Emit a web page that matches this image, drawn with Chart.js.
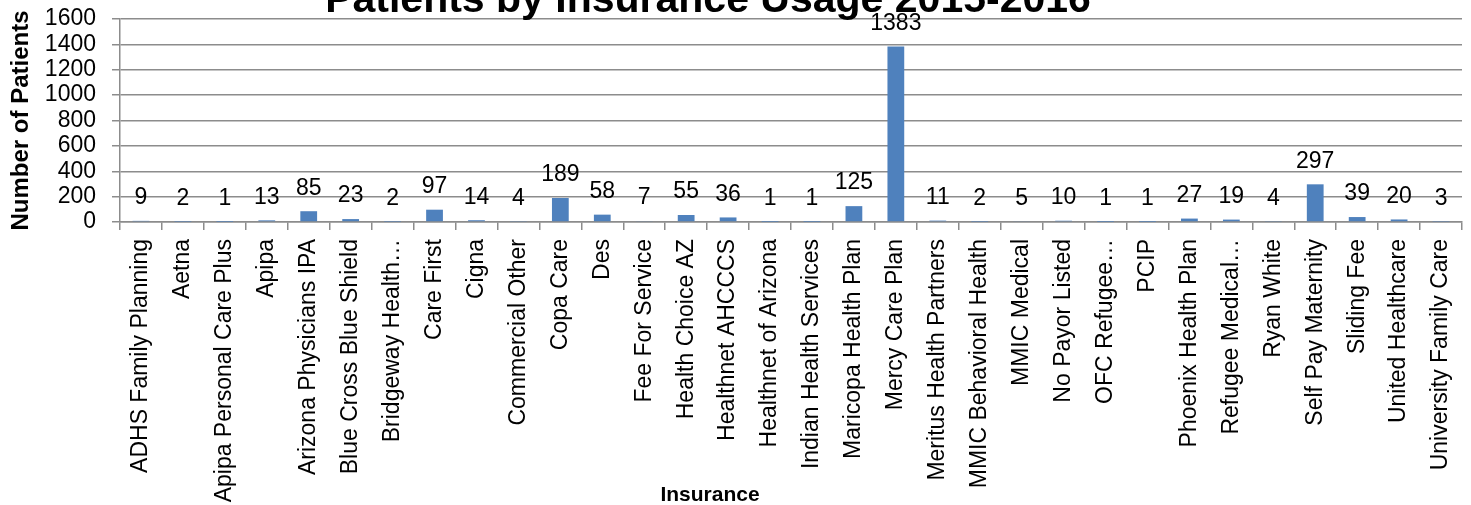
<!DOCTYPE html>
<html>
<head>
<meta charset="utf-8">
<script src="https://cdn.jsdelivr.net/npm/chart.js@4"></script>
<style>
  html, body { margin: 0; padding: 0; background: #fff; overflow: hidden; }
  #wrap { position: relative; width: 1471px; height: 505px; }
</style>
</head>
<body>
<div id="wrap"><canvas id="InsuranceCanvas" width="1471" height="505"></canvas></div>
<script>
// data
const insurances = [
    "ADHS Family Planning", "Aetna", "Apipa Personal Care Plus", "Apipa",
    "Arizona Physicians IPA", "Blue Cross Blue Shield", "Bridgeway Health…", "Care First",
    "Cigna", "Commercial Other", "Copa Care", "Des", "Fee For Service",
    "Health Choice AZ", "Healthnet AHCCCS", "Healthnet of Arizona", "Indian Health Services",
    "Maricopa Health Plan", "Mercy Care Plan", "Meritus Health Partners", "MMIC Behavioral Health",
    "MMIC Medical", "No Payor Listed", "OFC Refugee…", "PCIP", "Phoenix Health Plan",
    "Refugee Medical…", "Ryan White", "Self Pay Maternity", "Sliding Fee",
    "United Healthcare", "University Family Care"
];
const patients = [9, 2, 1, 13, 85, 23, 2, 97, 14, 4, 189, 58, 7, 55, 36, 1, 1, 125, 1383, 11, 2, 5, 10, 1, 1, 27, 19, 4, 297, 39, 20, 3];
const yTicks = [0, 200, 400, 600, 800, 1000, 1200, 1400, 1600];

const chartTitle = "Patients by Insurance Usage 2015-2016";
const xTitle = "Insurance";
const yTitle = "Number of Patients";

const FONT = "'Liberation Sans', Arial, sans-serif";
const GRID = '#8c8c8c';

//---------------------- PLUGINS

// value labels above the bars, and the two titles that sit outside the plot
const labelPlugin = {
    id: 'labels',
    afterDatasetsDraw(chart) {
        const ctx = chart.ctx;
        const meta = chart.getDatasetMeta(0);
        ctx.save();
        ctx.fillStyle = '#000';
        ctx.font = `23px ${FONT}`;
        ctx.textAlign = 'center';
        ctx.textBaseline = 'middle';
        meta.data.forEach((bar, i) => {
            ctx.fillText(String(patients[i]), bar.x, bar.y - 23);
        });
        ctx.restore();
    },
    afterDraw(chart) {
        const ctx = chart.ctx;
        ctx.save();
        ctx.fillStyle = '#000';
        ctx.textAlign = 'center';
        ctx.textBaseline = 'alphabetic';
        ctx.font = `bold 41px ${FONT}`;
        ctx.fillText(chartTitle, 708, 12);
        ctx.font = `bold 21px ${FONT}`;
        ctx.fillText(xTitle, 710, 501);
        ctx.restore();
    }
};

//---------------------- CHART

new Chart(document.getElementById("InsuranceCanvas").getContext("2d"), {
    type: 'bar',
    data: {
        labels: insurances,
        datasets: [{
            label: 'Patients',
            data: patients,
            backgroundColor: '#4F81BD',
            borderWidth: 0,
            barPercentage: 0.4,
            categoryPercentage: 1.0
        }]
    },
    options: {
        responsive: false,
        animation: false,
        devicePixelRatio: 1,
        layout: { padding: { top: 19, right: 9, left: 0, bottom: 0 } },
        plugins: {
            legend: { display: false },
            title: { display: false },
            tooltip: { enabled: false }
        },
        scales: {
            x: {
                offset: true,
                afterFit: scale => {
                    scale.height = 283;
                    scale.paddingLeft = 0;
                    scale.paddingRight = 0;
                },
                grid: {
                    offset: true,
                    drawOnChartArea: false,
                    drawTicks: true,
                    tickLength: 8,
                    color: GRID,
                    lineWidth: 1.5
                },
                border: { color: GRID, width: 1.5 },
                ticks: {
                    autoSkip: false,
                    minRotation: 90,
                    maxRotation: 90,
                    padding: 9,
                    color: '#000',
                    font: { family: FONT, size: 23 }
                }
            },
            y: {
                min: 0,
                max: 1600,
                afterBuildTicks: scale => { scale.ticks = yTicks.map(v => ({ value: v })); },
                afterFit: scale => {
                    scale.width = 120;
                    scale.paddingTop = 0;
                    scale.paddingBottom = 0;
                },
                grid: {
                    color: GRID,
                    lineWidth: 1.5,
                    drawTicks: true,
                    tickLength: 8
                },
                border: { color: GRID, width: 1.5 },
                ticks: {
                    autoSkip: false,
                    padding: 16,
                    color: '#000',
                    font: { family: FONT, size: 23 },
                    callback: value => String(value)
                },
                title: {
                    display: true,
                    text: yTitle,
                    color: '#000',
                    padding: { top: 7, bottom: 0 },
                    font: { family: FONT, size: 24, weight: 'bold' }
                }
            }
        }
    },
    plugins: [labelPlugin]
});
</script>
</body>
</html>
